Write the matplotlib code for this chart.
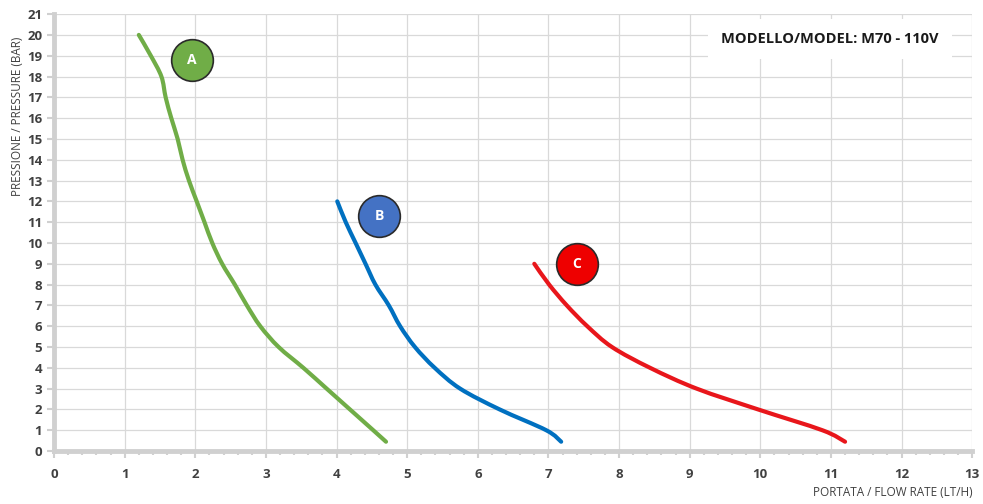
import numpy as np
import matplotlib.pyplot as plt
from matplotlib.path import Path
from matplotlib.patches import PathPatch
from matplotlib.ticker import MultipleLocator

plt.rcParams['font.family'] = ['Open Sans', 'DejaVu Sans']

# curve A (green)
a_flow = [1.2, 1.37, 1.52, 1.58, 1.66, 1.75, 1.82, 1.91, 2.02, 2.13, 2.24, 2.38, 2.56, 2.73, 2.92, 3.18, 3.53, 3.86, 4.19, 4.52, 4.7]
a_pres = [20, 19, 18, 17, 16, 15, 14, 13, 12, 11, 10, 9, 8, 7, 6, 5, 4, 3, 2, 1, 0.45]
# curve B (blue)
b_flow = [4.01, 4.13, 4.27, 4.41, 4.55, 4.74, 4.9, 5.11, 5.39, 5.75, 6.31, 6.97, 7.18]
b_pres = [12, 11, 10, 9, 8, 7, 6, 5, 4, 3, 2, 1, 0.45]
# curve C (red)
c_flow = [6.8, 7.01, 7.26, 7.55, 7.9, 8.44, 9.1, 9.97, 10.88, 11.2]
c_pres = [9.0, 8, 7, 6, 5, 4, 3, 2, 1, 0.45]

labels = ['A', 'B', 'C']
label_pos = [(1.95, 18.8), (4.6, 11.3), (7.4, 9.0)]
line_colors = ['#70AD47', '#0070C0', '#E8161B']
circle_colors = ['#70AD47', '#4472C4', '#EE0000']


def smooth_path(xs, ys):
    # Excel-like smoothed line: Catmull-Rom segments as cubic Beziers
    p = np.column_stack([xs, ys]).astype(float)
    verts = [p[0]]
    codes = [Path.MOVETO]
    n = len(p)
    for i in range(n - 1):
        p0 = p[i - 1] if i > 0 else p[i]
        p3 = p[i + 2] if i + 2 < n else p[i + 1]
        c1 = p[i] + (p[i + 1] - p0) / 6
        c2 = p[i + 1] - (p3 - p[i]) / 6
        verts += [c1, c2, p[i + 1]]
        codes += [Path.CURVE4] * 3
    return Path(verts, codes)


fig = plt.figure(figsize=(9.83, 5.04), dpi=100)
ax = fig.add_axes([0.055, 0.105, 0.934, 0.867])

ax.set_xlim(0, 13)
ax.set_ylim(0, 21)
ax.xaxis.set_major_locator(MultipleLocator(1))
ax.xaxis.set_minor_locator(MultipleLocator(0.2))
ax.yaxis.set_major_locator(MultipleLocator(1))
ax.grid(True, which='major', color='#D9D9D9', linewidth=0.9)
ax.set_axisbelow(True)

for s in ['top', 'right']:
    ax.spines[s].set_visible(False)
for s in ['left', 'bottom']:
    ax.spines[s].set_color('#D0D0D0')
    ax.spines[s].set_linewidth(3.5)

ax.tick_params(axis='both', which='major', colors='#D0D0D0', labelcolor='#404040',
               labelsize=9.5, length=5, width=1.5)
ax.tick_params(axis='x', which='minor', colors='#D0D0D0', length=3, width=1.5)
ax.tick_params(axis='x', pad=7)
for lab in ax.get_xticklabels() + ax.get_yticklabels():
    lab.set_fontweight('bold')

for fx, py, c in [(a_flow, a_pres, line_colors[0]), (b_flow, b_pres, line_colors[1]),
                  (c_flow, c_pres, line_colors[2])]:
    patch = PathPatch(smooth_path(fx, py), facecolor='none', edgecolor=c, linewidth=3,
                      capstyle='round', joinstyle='round', zorder=3)
    ax.add_patch(patch)

for lab, (x, y), c in zip(labels, label_pos, circle_colors):
    ax.plot(x, y, 'o', markersize=30, markerfacecolor=c, markeredgecolor='#2A2A2A',
            markeredgewidth=1.2, zorder=5)
    ax.text(x, y, lab, color='white', fontsize=10, fontweight='bold',
            ha='center', va='center', zorder=6)

ax.text(0.845, 0.943, 'MODELLO/MODEL: M70 - 110V', transform=ax.transAxes,
        ha='center', va='center', fontsize=10.5, fontweight='bold', color='#1A1A1A',
        bbox=dict(boxstyle='square,pad=0.9', facecolor='white', edgecolor='none'), zorder=7)

fig.text(0.018, 0.77, 'PRESSIONE / PRESSURE (BAR)', rotation=90, ha='center', va='center',
         fontsize=8.5, color='#404040')
fig.text(0.989, 0.022, 'PORTATA / FLOW RATE (LT/H)', ha='right', va='center',
         fontsize=8.5, color='#404040')

fig.savefig('out.png', dpi=100)
